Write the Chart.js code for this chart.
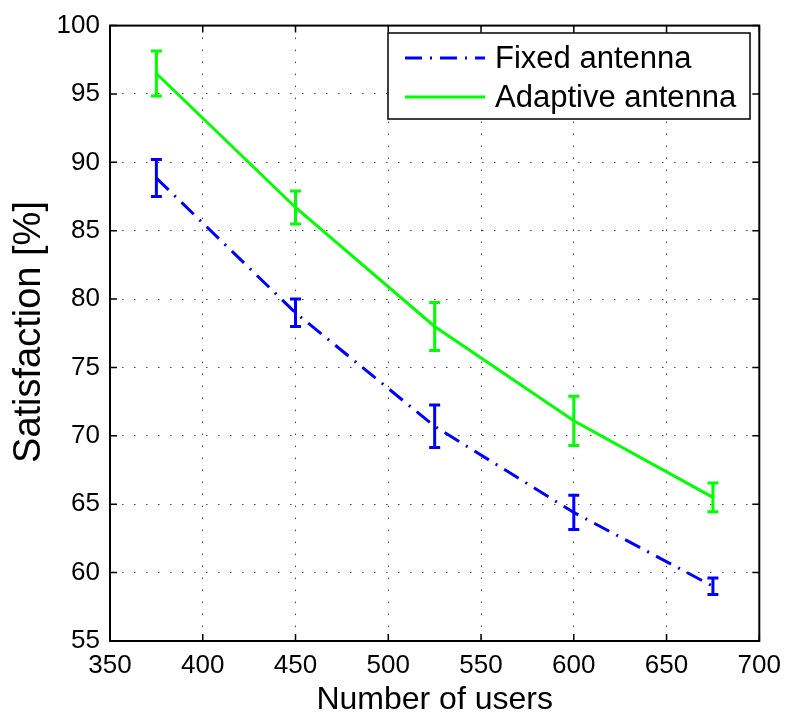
<!DOCTYPE html>
<html>
<head>
<meta charset="utf-8">
<script src="https://cdn.jsdelivr.net/npm/chart.js@4/dist/chart.umd.min.js"></script>
<style>
  html, body { margin: 0; padding: 0; background: #fff; }
  #wrap { width: 790px; height: 715px; }
</style>
</head>
<body>
<div id="wrap"><canvas id="satChart" width="790" height="715"></canvas></div>
<script>
// Data
const users = [375, 450, 525, 600, 675];
const fixedMean = [88.85, 79.0, 70.7, 64.4, 59.0];
const fixedErr = [1.35, 1.0, 1.55, 1.25, 0.6];
const adaptiveMean = [96.5, 86.7, 78.0, 71.1, 65.5];
const adaptiveErr = [1.65, 1.2, 1.75, 1.8, 1.05];
const xTicks = [350, 400, 450, 500, 550, 600, 650, 700];
const yTicks = [55, 60, 65, 70, 75, 80, 85, 90, 95, 100];

const FONT = '"Liberation Sans", Arial, Helvetica, sans-serif';
const fixedDash = [17, 8, 2, 8];

function points(means) {
    return users.map((u, i) => ({ x: u, y: means[i] }));
}

// Error bars, box, inward ticks, legend and axis titles in MATLAB style
const matlabPlugin = {
    id: 'matlab',
    afterDatasetsDraw(chart) {
        const ctx = chart.ctx;
        const xs = chart.scales.x;
        const ys = chart.scales.y;
        const area = chart.chartArea;

        // error bars
        chart.data.datasets.forEach(ds => {
            ctx.save();
            ctx.strokeStyle = ds.borderColor;
            ctx.lineWidth = 3;
            ctx.setLineDash([]);
            ds.data.forEach((p, i) => {
                const px = xs.getPixelForValue(p.x);
                const top = ys.getPixelForValue(p.y + ds.errors[i]);
                const bot = ys.getPixelForValue(p.y - ds.errors[i]);
                ctx.beginPath();
                ctx.moveTo(px, top);
                ctx.lineTo(px, bot);
                ctx.moveTo(px - 5.5, top);
                ctx.lineTo(px + 5.5, top);
                ctx.moveTo(px - 5.5, bot);
                ctx.lineTo(px + 5.5, bot);
                ctx.stroke();
            });
            ctx.restore();
        });

        // inward ticks on all four sides
        ctx.save();
        ctx.strokeStyle = '#000';
        ctx.lineWidth = 1.5;
        ctx.setLineDash([]);
        ctx.beginPath();
        xTicks.forEach(v => {
            const px = xs.getPixelForValue(v);
            ctx.moveTo(px, area.bottom);
            ctx.lineTo(px, area.bottom - 7);
            ctx.moveTo(px, area.top);
            ctx.lineTo(px, area.top + 7);
        });
        yTicks.forEach(v => {
            const py = ys.getPixelForValue(v);
            ctx.moveTo(area.left, py);
            ctx.lineTo(area.left + 7, py);
            ctx.moveTo(area.right, py);
            ctx.lineTo(area.right - 7, py);
        });
        ctx.stroke();

        // box
        ctx.lineWidth = 2;
        ctx.strokeRect(area.left, area.top, area.right - area.left, area.bottom - area.top);
        ctx.restore();

        // legend
        ctx.save();
        const lx = 388, ly = 33, lw = 362, lh = 86;
        ctx.fillStyle = '#fff';
        ctx.fillRect(lx, ly, lw, lh);
        ctx.strokeStyle = '#000';
        ctx.lineWidth = 1.5;
        ctx.strokeRect(lx, ly, lw, lh);
        const rows = [58, 97];
        chart.data.datasets.forEach((ds, i) => {
            ctx.beginPath();
            ctx.strokeStyle = ds.borderColor;
            ctx.lineWidth = 3;
            ctx.setLineDash(ds.borderDash || []);
            ctx.moveTo(405, rows[i]);
            ctx.lineTo(485, rows[i]);
            ctx.stroke();
            ctx.setLineDash([]);
            ctx.fillStyle = '#000';
            ctx.font = '31px ' + FONT;
            ctx.textAlign = 'left';
            ctx.textBaseline = 'middle';
            ctx.fillText(ds.label, 495, rows[i] + 1);
        });
        ctx.restore();

        // axis titles
        ctx.save();
        ctx.fillStyle = '#000';
        ctx.textAlign = 'center';
        ctx.font = '32px ' + FONT;
        ctx.textBaseline = 'alphabetic';
        ctx.fillText('Number of users', (area.left + area.right) / 2, 709);
        ctx.font = '38px ' + FONT;
        ctx.textBaseline = 'middle';
        ctx.translate(30, 332);
        ctx.rotate(-Math.PI / 2);
        ctx.fillText('Satisfaction [%]', 0, 0);
        ctx.restore();
    }
};

const ctx = document.getElementById('satChart').getContext('2d');
const chart = new Chart(ctx, {
    type: 'line',
    data: {
        datasets: [
            {
                label: 'Fixed antenna',
                data: points(fixedMean),
                errors: fixedErr,
                borderColor: '#0000ff',
                borderWidth: 3,
                borderDash: fixedDash,
                pointRadius: 0,
                fill: false,
                tension: 0
            },
            {
                label: 'Adaptive antenna',
                data: points(adaptiveMean),
                errors: adaptiveErr,
                borderColor: '#00ff00',
                borderWidth: 3,
                pointRadius: 0,
                fill: false,
                tension: 0
            }
        ]
    },
    options: {
        responsive: false,
        animation: false,
        layout: {
            padding: { left: 0, right: 28, top: 20, bottom: 0 }
        },
        plugins: {
            legend: { display: false },
            tooltip: { enabled: false }
        },
        scales: {
            x: {
                type: 'linear',
                min: 350,
                max: 700,
                afterBuildTicks: scale => {
                    scale.ticks = xTicks.map(v => ({ value: v }));
                },
                afterFit: scale => { scale.height = 74; },
                ticks: {
                    color: '#000',
                    font: { family: FONT, size: 26 },
                    padding: 9,
                    maxRotation: 0
                },
                grid: {
                    color: '#444',
                    lineWidth: 1,
                    drawTicks: false
                },
                border: { display: false, dash: [1.5, 10.5] }
            },
            y: {
                type: 'linear',
                min: 55,
                max: 100,
                afterBuildTicks: scale => {
                    scale.ticks = yTicks.map(v => ({ value: v }));
                },
                afterFit: scale => { scale.width = 110; },
                ticks: {
                    color: '#000',
                    font: { family: FONT, size: 26 },
                    padding: 10
                },
                grid: {
                    color: '#444',
                    lineWidth: 1,
                    drawTicks: false
                },
                border: { display: false, dash: [1.5, 10.5] }
            }
        }
    },
    plugins: [matlabPlugin]
});
</script>
</body>
</html>
